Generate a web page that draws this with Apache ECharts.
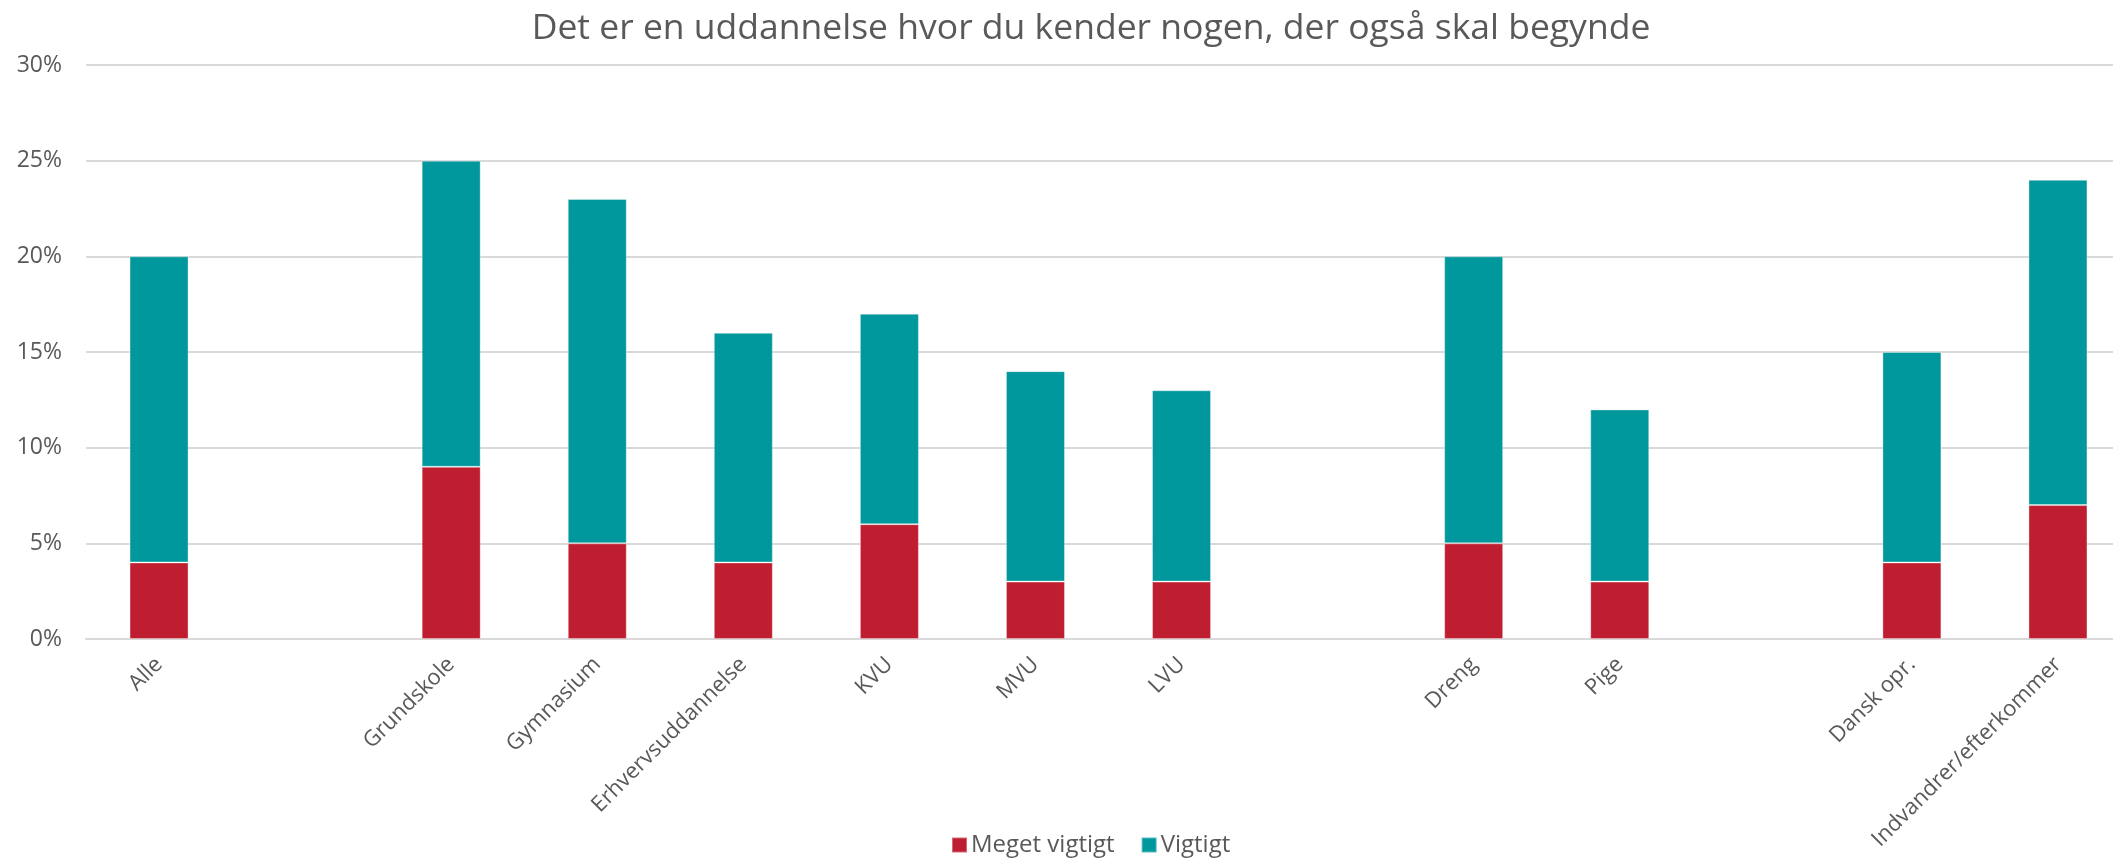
<!DOCTYPE html>
<html>
<head>
<meta charset="utf-8">
<script src="https://cdn.jsdelivr.net/npm/echarts@6/dist/echarts.min.js"></script>
<style>
html,body{margin:0;padding:0;background:#fff;overflow:hidden;width:2113px;height:858px;}
#chart{width:2131px;height:858px;}
</style>
</head>
<body>
<div id="chart"></div>
<script>
const categories = ["Alle", "", "Grundskole", "Gymnasium", "Erhvervsuddannelse", "KVU", "MVU", "LVU", "", "Dreng", "Pige", "", "Dansk opr.", "Indvandrer/efterkommer"];
const megetVigtigt = [4, null, 9, 5, 4, 6, 3, 3, null, 5, 3, null, 4, 7];
const vigtigt = [16, null, 16, 18, 12, 11, 11, 10, null, 15, 9, null, 11, 17];
const seriesNames = ["Meget vigtigt", "Vigtigt"];
const titleText = "Det er en uddannelse hvor du kender nogen, der også skal begynde";

const FONT = "'Open Sans', 'Noto Sans', sans-serif";
const TXT = '#595959';
const chart = echarts.init(document.getElementById('chart'), null, {renderer: 'canvas'});
chart.setOption({
  animation: false,
  backgroundColor: '#ffffff',
  title: {
    text: titleText,
    left: 1086, top: 6, textAlign: 'center',
    textStyle: {fontFamily: FONT, fontSize: 35.5, fontWeight: 'normal', color: TXT}
  },
  legend: {
    data: seriesNames,
    left: 946, top: 828,
    itemWidth: 15, itemHeight: 15, itemGap: 26,
    icon: 'rect',
    textStyle: {fontFamily: FONT, fontSize: 24, color: TXT, padding: [0, 0, 0, -1]}
  },
  grid: {left: 86, top: 65, right: 0, height: 574, containLabel: false},
  xAxis: {
    type: 'category',
    data: categories,
    axisLine: {lineStyle: {color: '#D9D9D9', width: 2}},
    axisTick: {show: false},
    axisLabel: {rotate: 45, interval: 0, margin: 22, fontFamily: FONT, fontSize: 22, color: TXT}
  },
  yAxis: {
    type: 'value', min: 0, max: 30, interval: 5,
    axisLine: {show: false}, axisTick: {show: false},
    splitLine: {lineStyle: {color: '#D9D9D9', width: 2}},
    axisLabel: {formatter: '{value}%', margin: 24, fontFamily: FONT, fontSize: 23, color: TXT}
  },
  series: [
    {name: seriesNames[0], type: 'bar', stack: 'a', data: megetVigtigt, barWidth: 59,
     itemStyle: {color: '#BE1E2F', borderColor: 'rgba(255,255,255,0.35)', borderWidth: 1}},
    {name: seriesNames[1], type: 'bar', stack: 'a', data: vigtigt, barWidth: 59,
     itemStyle: {color: '#00979D', borderColor: 'rgba(255,255,255,0.35)', borderWidth: 1}}
  ]
});
</script>
</body>
</html>
